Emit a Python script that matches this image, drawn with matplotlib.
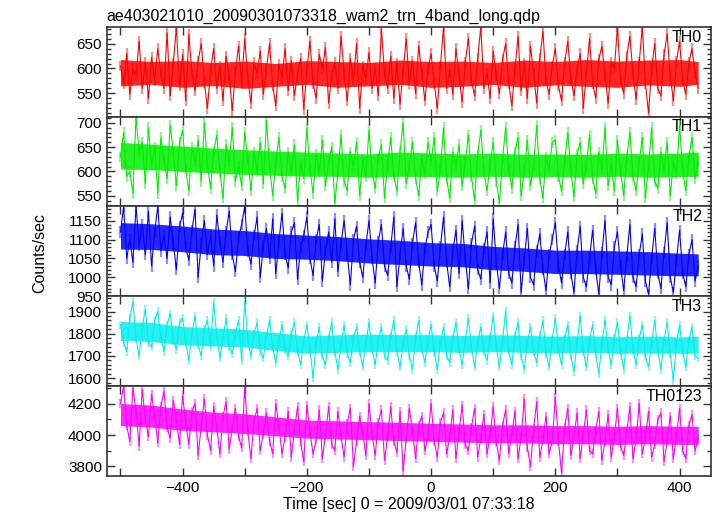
import numpy as np
import matplotlib
matplotlib.use("Agg")
import matplotlib.pyplot as plt
from matplotlib.ticker import MultipleLocator

plt.rcParams['font.family'] = ['Liberation Sans', 'DejaVu Sans']

title = "ae403021010_20090301073318_wam2_trn_4band_long.qdp"
xlabel = "Time [sec] 0 = 2009/03/01 07:33:18"
ylabel = "Counts/sec"

# 5 s bins
time = np.arange(-500, 431, 5)

th0 = [605, 570, 630, 548, 600, 585, 655, 560, 612, 540,
       622, 575, 640, 590, 560, 672, 545, 610, 684, 565,
       628, 535, 668, 590, 555, 615, 650, 572, 520, 598,
       640, 560, 605, 535, 625, 585, 515, 595, 645, 570,
       660, 580, 530, 612, 590, 635, 548, 600, 650, 565,
       525, 608, 582, 640, 555, 615, 545, 590, 620, 518,
       598, 655, 570, 540, 628, 600, 642, 530, 585, 612,
       560, 665, 590, 535, 620, 578, 650, 520, 605, 580,
       632, 560, 600, 545, 680, 590, 560, 625, 540, 610,
       528, 595, 660, 570, 615, 550, 645, 590, 535, 600,
       630, 570, 520, 605, 684, 560, 598, 548, 640, 585,
       532, 612, 660, 575, 545, 620, 684, 560, 590, 540,
       635, 585, 550, 618, 650, 570, 525, 600, 665, 555,
       610, 540, 645, 590, 530, 620, 675, 575, 548, 605,
       640, 565, 535, 612, 655, 580, 545, 598, 630, 520,
       590, 660, 570, 540, 618, 645, 585, 530, 612, 600,
       684, 575, 550, 625, 665, 590, 538, 612, 684, 570,
       510, 600, 650, 560, 545, 628, 670, 585, 535, 615,
       655, 575, 548, 612, 640, 590, 560]
th1 = [630, 680, 590, 600, 555, 713, 640, 660, 575, 690,
       612, 650, 555, 670, 625, 585, 695, 640, 570, 660,
       685, 605, 560, 650, 620, 665, 580, 700, 615, 565,
       640, 675, 600, 545, 655, 620, 690, 580, 610, 570,
       680, 625, 560, 640, 600, 660, 575, 705, 610, 550,
       620, 670, 590, 565, 640, 600, 655, 540, 615, 585,
       690, 605, 555, 635, 600, 665, 570, 620, 650, 535,
       598, 675, 580, 560, 640, 610, 660, 550, 625, 590,
       685, 600, 565, 628, 655, 545, 615, 670, 590, 560,
       640, 700, 575, 610, 660, 585, 550, 625, 595, 660,
       620, 670, 560, 605, 690, 585, 545, 640, 610, 655,
       570, 620, 675, 590, 540, 635, 685, 600, 560, 615,
       660, 580, 535, 625, 690, 605, 565, 640, 670, 550,
       600, 665, 570, 615, 695, 585, 545, 630, 605, 660,
       665, 590, 560, 620, 680, 600, 548, 635, 660, 575,
       612, 675, 585, 555, 640, 605, 690, 570, 615, 560,
       665, 600, 550, 630, 680, 590, 560, 620, 670, 545,
       610, 690, 580, 565, 640, 605, 660, 550, 620, 595,
       695, 600, 560, 630, 670, 585, 620]
th2 = [1120, 1188, 1050, 1100, 1040, 1188, 1085, 1140, 1060, 1175,
       1030, 1120, 1188, 1070, 1110, 1050, 1160, 1090, 1020, 1135,
       1170, 1080, 1045, 1125, 1180, 1000, 1090, 1150, 1060, 1110,
       1030, 1165, 1095, 1040, 1120, 1175, 1060, 1015, 1105, 1140,
       1188, 1070, 1035, 1110, 1160, 1000, 1085, 1130, 1050, 1155,
       1010, 1095, 1170, 1060, 1025, 1120, 1145, 995, 1080, 1110,
       1160, 1050, 1005, 1100, 1140, 990, 1070, 1120, 1040, 1155,
       1015, 1090, 1150, 1060, 980, 1100, 1135, 1040, 1000, 1085,
       1150, 1050, 985, 1095, 1140, 1030, 1005, 1080, 1160, 975,
       1060, 1130, 1030, 995, 1090, 1145, 1040, 980, 1075, 1120,
       1140, 1030, 990, 1080, 1160, 1040, 975, 1070, 1125, 1010,
       1150, 1050, 970, 1090, 1135, 1020, 995, 1075, 1120, 985,
       1155, 1040, 970, 1060, 1120, 1010, 985, 1080, 1140, 960,
       1050, 1130, 1000, 980, 1070, 1115, 1020, 965, 1060, 1100,
       1145, 1030, 985, 1060, 1120, 1010, 960, 1070, 1135, 1000,
       975, 1050, 1125, 1020, 955, 1065, 1150, 1000, 980, 1080,
       1120, 1030, 965, 1055, 1140, 1000, 975, 1060, 1115, 990,
       955, 1050, 1130, 1010, 970, 1065, 1145, 1000, 960, 1045,
       1125, 1010, 975, 1060, 1100, 990, 1030]
th3 = [1840, 1760, 1720, 1870, 1945, 1780, 1700, 1830, 1910, 1760,
       1740, 1860, 1900, 1790, 1720, 1840, 1890, 1770, 1730, 1850,
       1870, 1760, 1680, 1800, 1880, 1750, 1700, 1820, 1860, 1740,
       1940, 1790, 1690, 1780, 1870, 1740, 1710, 1800, 1860, 1680,
       1945, 1770, 1700, 1800, 1850, 1720, 1690, 1790, 1860, 1740,
       1670, 1770, 1840, 1730, 1700, 1800, 1850, 1720, 1660, 1770,
       1840, 1730, 1600, 1760, 1830, 1700, 1660, 1780, 1850, 1720,
       1640, 1750, 1840, 1710, 1670, 1780, 1830, 1720, 1650, 1760,
       1850, 1730, 1660, 1770, 1830, 1700, 1680, 1790, 1860, 1720,
       1650, 1760, 1820, 1700, 1640, 1780, 1860, 1730, 1670, 1770,
       1840, 1720, 1640, 1760, 1830, 1700, 1670, 1780, 1850, 1730,
       1660, 1770, 1870, 1740, 1650, 1760, 1830, 1720, 1680, 1780,
       1880, 1740, 1650, 1770, 1900, 1720, 1660, 1790, 1850, 1700,
       1640, 1760, 1830, 1720, 1670, 1790, 1860, 1710, 1650, 1770,
       1870, 1730, 1660, 1780, 1840, 1700, 1630, 1760, 1880, 1720,
       1650, 1770, 1840, 1710, 1620, 1760, 1860, 1730, 1660, 1780,
       1850, 1720, 1640, 1770, 1880, 1730, 1660, 1780, 1840, 1700,
       1650, 1760, 1860, 1720, 1640, 1770, 1850, 1710, 1590, 1760,
       1840, 1720, 1650, 1770, 1830, 1700, 1690]
th0123 = [4200, 4312, 4060, 3960, 4300, 4150, 3930, 4290, 4100, 3990,
          4260, 4120, 3950, 4180, 4280, 4050, 3980, 4220, 4100, 3940,
          4250, 4080, 3940, 4150, 4200, 3870, 4060, 4230, 4000, 3900,
          4180, 4050, 3880, 4120, 4210, 3910, 4040, 4170, 3990, 3920,
          4300, 4020, 3850, 4090, 4170, 3900, 4010, 4140, 3960, 3880,
          4200, 4060, 3880, 3990, 4150, 3860, 4030, 4180, 3950, 3830,
          4190, 4020, 3880, 3970, 4160, 3850, 4000, 4180, 3940, 3900,
          4150, 3990, 3860, 4070, 4170, 3800, 3960, 4120, 4010, 3870,
          4200, 4000, 3870, 4080, 4160, 3840, 3990, 4180, 3960, 3890,
          4150, 3770, 3980, 4170, 4030, 3850, 4060, 4120, 3900, 3990,
          4200, 3960, 3860, 4080, 4140, 3880, 3990, 4160, 3850, 4020,
          4190, 3940, 3900, 4050, 4170, 3860, 3980, 4130, 3880, 4000,
          4180, 3950, 3840, 4060, 4160, 3880, 4010, 4150, 3850, 3990,
          4230, 3920, 3800, 4040, 4210, 3860, 3970, 4120, 3880, 3960,
          4240, 3960, 3760, 4050, 4170, 3870, 3990, 4140, 3850, 4000,
          4160, 3900, 3880, 4030, 4150, 3840, 3960, 4130, 3860, 3990,
          4170, 3930, 3870, 4020, 4180, 3850, 3970, 4200, 3880, 3980,
          4150, 3860, 3940, 4100, 4140, 3830, 3960, 4120, 3850, 3990,
          4170, 3900, 3850, 4060, 4130, 3900, 3980]

# typical 1-sigma error bar of each band (counts/sec)
th0_err, th1_err, th2_err, th3_err, th0123_err = 11, 11, 15, 19, 29

# dense core of each curve (where the bins pile up), every 50 s
core_t = [-500, -450, -400, -350, -300, -250, -200, -150, -100, -50,
          0, 50, 100, 150, 200, 250, 300, 350, 400, 430]
th0_lo = [565, 568, 562, 566, 560, 564, 568, 562, 565, 568, 562, 564, 568, 562, 567, 564, 562, 567, 564, 568]
th0_hi = [618, 614, 616, 612, 615, 610, 616, 614, 612, 617, 614, 615, 612, 617, 614, 618, 615, 617, 618, 614]
th1_lo = [605, 604, 600, 597, 594, 592, 590, 590, 588, 590, 589, 588, 590, 588, 589, 588, 590, 588, 589, 590]
th1_hi = [660, 656, 652, 648, 645, 642, 640, 638, 636, 640, 638, 636, 638, 635, 636, 635, 638, 636, 638, 640]
th2_lo = [1075, 1074, 1068, 1060, 1058, 1050, 1048, 1044, 1038, 1034, 1030, 1028, 1020, 1016, 1010, 1010, 1008, 1006, 1004, 1004]
th2_hi = [1145, 1142, 1136, 1128, 1124, 1116, 1112, 1108, 1102, 1098, 1092, 1090, 1082, 1078, 1072, 1072, 1070, 1068, 1064, 1062]
th3_lo = [1770, 1765, 1750, 1745, 1740, 1725, 1712, 1716, 1720, 1720, 1720, 1716, 1720, 1716, 1713, 1716, 1712, 1713, 1712, 1713]
th3_hi = [1855, 1850, 1832, 1826, 1820, 1805, 1790, 1795, 1798, 1796, 1796, 1792, 1796, 1793, 1789, 1792, 1786, 1789, 1786, 1788]
th0123_lo = [4060, 4050, 4030, 4020, 4010, 3995, 3980, 3975, 3970, 3965, 3960, 3955, 3950, 3950, 3945, 3945, 3940, 3945, 3940, 3940]
th0123_hi = [4200, 4190, 4165, 4145, 4135, 4115, 4095, 4090, 4085, 4080, 4075, 4070, 4065, 4065, 4060, 4060, 4055, 4060, 4055, 4055]

names = ["TH0", "TH1", "TH2", "TH3", "TH0123"]
series = [th0, th1, th2, th3, th0123]
errs = [th0_err, th1_err, th2_err, th3_err, th0123_err]
cores = [(th0_lo, th0_hi), (th1_lo, th1_hi), (th2_lo, th2_hi), (th3_lo, th3_hi), (th0123_lo, th0123_hi)]
colors = ["#ff0000", "#00ee00", "#0000ff", "#00eeee", "#ff00ff"]
ylims = [(503, 684), (528, 713), (950, 1188), (1565, 1969), (3741, 4312)]
ymajor = [50, 50, 50, 100, 200]
yminor = [10, 10, 10, 20, 100]

fig, axes = plt.subplots(5, 1, figsize=(7.17, 5.16), dpi=100, sharex=True)
fig.subplots_adjust(left=0.149, right=0.992, top=0.948, bottom=0.078, hspace=0)

for ax, name, y, err, (lo, hi), c, yl, maj, mnr in zip(axes, names, series, errs, cores, colors,
                                                       ylims, ymajor, yminor):
    t = time[:len(y)]
    y = np.asarray(y)
    ax.fill_between(core_t, lo, hi, color=c, alpha=0.85, lw=0)
    # qdp-style error bars, drawn pale behind the curve
    ax.vlines(t, y - err, y + err, color=c, lw=1.6, alpha=0.45)
    ax.plot(t, y, color=c, lw=0.8)
    ax.set_xlim(-522, 451)
    ax.set_ylim(*yl)
    ax.yaxis.set_major_locator(MultipleLocator(maj))
    ax.yaxis.set_minor_locator(MultipleLocator(mnr))
    ax.xaxis.set_major_locator(MultipleLocator(200))
    ax.xaxis.set_minor_locator(MultipleLocator(100))
    ax.tick_params(which='both', direction='in', top=True, right=True, labelsize=11, colors='#333333',
                   labelcolor='black', width=1)
    ax.tick_params(which='major', length=6)
    ax.tick_params(which='minor', length=3)
    ax.tick_params(axis='x', which='minor', length=6)
    for s in ax.spines.values():
        s.set_linewidth(1.2)
        s.set_color('#333333')
    ax.text(0.985, 0.97, name, transform=ax.transAxes, ha='right', va='top', fontsize=11.5)

axes[0].set_title(title, loc='left', fontsize=11.5, pad=4)
axes[-1].set_xlabel(xlabel, fontsize=11.5, labelpad=2)
fig.text(0.055, 0.51, ylabel, rotation=90, ha='center', va='center', fontsize=11.5)

fig.savefig("out.png", dpi=100)
